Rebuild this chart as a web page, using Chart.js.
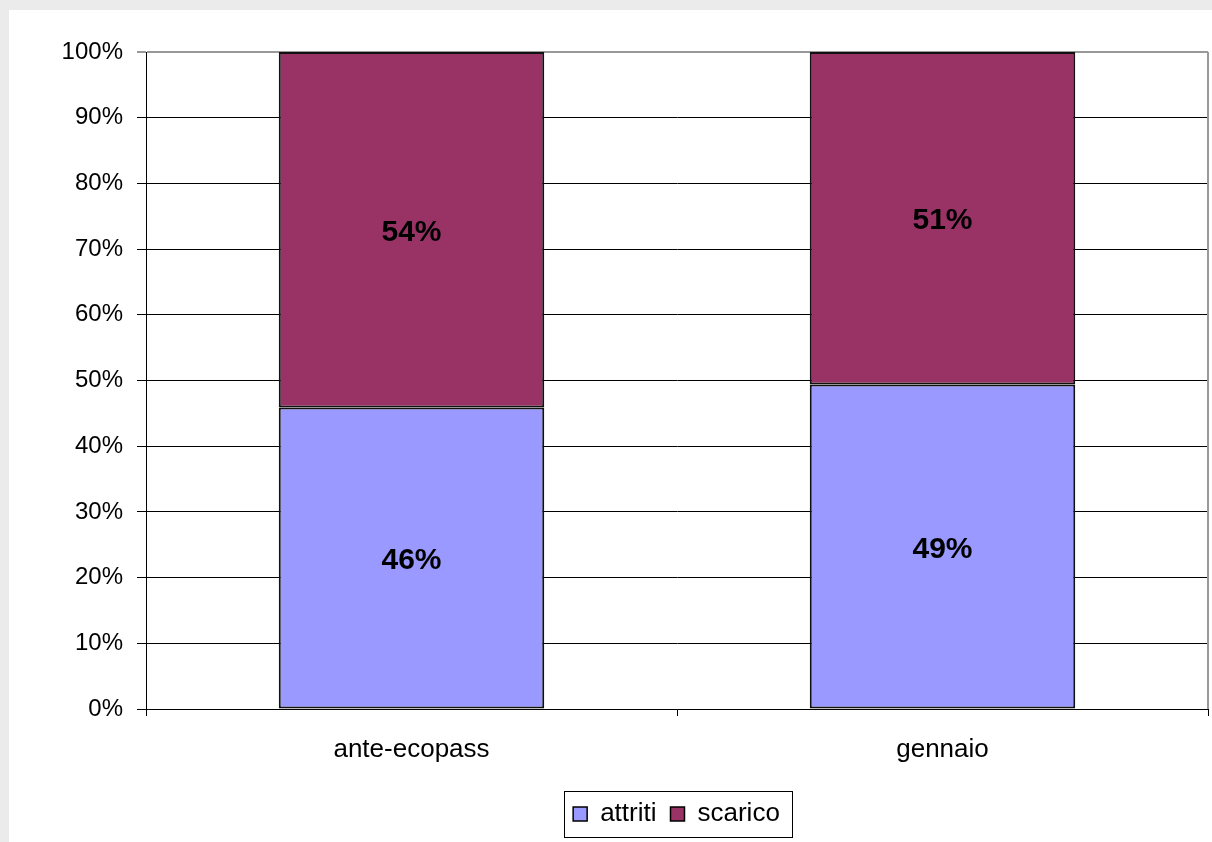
<!DOCTYPE html>
<html>
<head>
<meta charset="utf-8">
<script src="https://cdn.jsdelivr.net/npm/chart.js@4/dist/chart.umd.min.js"></script>
<style>
  html, body { margin: 0; padding: 0; background: #ebebeb; }
  #wrap { position: absolute; left: 9px; top: 10px; width: 1203px; height: 832px; background: #fff; }
</style>
</head>
<body>
<div id="wrap"><canvas id="bar-canvas" width="1203" height="832"></canvas></div>
<script>
const categories = ["ante-ecopass", "gennaio"]
const attriti = [45.9, 49.4]
const scarico = [54.1, 50.6]
const labelsAttriti = ["46%", "49%"]
const labelsScarico = ["54%", "51%"]

Chart.defaults.font.family = "'Liberation Sans', Arial, sans-serif"
Chart.defaults.color = "#000"

// centered percent labels inside each bar segment
const segmentLabels = {
    id: "segmentLabels",
    afterDatasetsDraw(chart) {
        const ctx = chart.ctx
        ctx.save()
        ctx.font = "bold 30px 'Liberation Sans', Arial, sans-serif"
        ctx.fillStyle = "#000"
        ctx.textAlign = "center"
        ctx.textBaseline = "middle"
        chart.data.datasets.forEach((ds, i) => {
            const meta = chart.getDatasetMeta(i)
            meta.data.forEach((bar, j) => {
                const p = bar.getProps(["x", "y", "base"], true)
                ctx.fillText(ds.segLabels[j], p.x, (p.y + p.base) / 2 + 3)
            })
        })
        ctx.restore()
    }
}

// grey right border of plot, legend nudged right + box round it
const frame = {
    id: "frame",
    afterLayout(chart) {
        const lg = chart.legend
        lg.left += 68
        lg.right += 68
    },
    beforeDatasetsDraw(chart) {
        const a = chart.chartArea
        const ctx = chart.ctx
        ctx.save()
        ctx.strokeStyle = "#999"
        ctx.lineWidth = 2
        ctx.beginPath()
        ctx.moveTo(a.right, a.top)
        ctx.lineTo(a.right, a.bottom)
        ctx.stroke()
        ctx.restore()
    },
    afterDraw(chart) {
        const boxes = chart.legend.legendHitBoxes
        if (!boxes || !boxes.length) return
        const l = Math.min(...boxes.map(b => b.left))
        const r = Math.max(...boxes.map(b => b.left + b.width))
        const t = Math.min(...boxes.map(b => b.top))
        const btm = Math.max(...boxes.map(b => b.top + b.height))
        const ctx = chart.ctx
        ctx.save()
        ctx.strokeStyle = "#000"
        ctx.lineWidth = 1
        ctx.strokeRect(Math.round(l - 9) + 0.5, Math.round(t - 10) + 0.5, Math.round(r - l + 21), Math.round(btm - t + 20))
        ctx.restore()
    }
}

new Chart(document.getElementById("bar-canvas"), {
    type: "bar",
    data: {
        labels: categories,
        datasets: [
            {
                label: "attriti",
                data: attriti,
                segLabels: labelsAttriti,
                backgroundColor: "#9999ff",
                borderColor: "#111",
                borderWidth: 2,
                borderSkipped: false
            },
            {
                label: "scarico",
                data: scarico,
                segLabels: labelsScarico,
                backgroundColor: "#993366",
                borderColor: "#111",
                borderWidth: 2,
                borderSkipped: false
            }
        ]
    },
    options: {
        responsive: false,
        animation: false,
        categoryPercentage: 1,
        barPercentage: 0.5,
        layout: { padding: { left: 0, top: 42, right: 4, bottom: 5 } },
        plugins: {
            tooltip: { enabled: false },
            legend: {
                position: "bottom",
                labels: {
                    boxWidth: 14,
                    boxHeight: 14,
                    padding: 14,
                    font: { size: 26 },
                    color: "#000",
                    generateLabels(chart) {
                        return chart.data.datasets.map((ds, i) => ({
                            text: ds.label,
                            fillStyle: ds.backgroundColor,
                            strokeStyle: "#000",
                            lineWidth: 1.5,
                            datasetIndex: i
                        }))
                    }
                }
            }
        },
        scales: {
            x: {
                stacked: true,
                afterFit(scale) { scale.height = 78 },
                border: { color: "#000", width: 1 },
                grid: {
                    offset: true,
                    drawOnChartArea: false,
                    drawTicks: true,
                    tickLength: 7,
                    color: "#000"
                },
                ticks: { padding: 18, font: { size: 26 }, color: "#000" }
            },
            y: {
                stacked: true,
                min: 0,
                max: 100,
                afterFit(scale) { scale.width = 137 },
                border: { color: "#000", width: 1 },
                grid: {
                    color: ctx => ctx.tick && ctx.tick.value === 100 ? "#999" : "#000",
                    lineWidth: ctx => ctx.tick && ctx.tick.value === 100 ? 2 : 1,
                    tickLength: 9
                },
                ticks: {
                    stepSize: 10,
                    padding: 14,
                    font: { size: 24 },
                    color: "#000",
                    callback: v => v + "%"
                }
            }
        }
    },
    plugins: [segmentLabels, frame]
})
</script>
</body>
</html>
